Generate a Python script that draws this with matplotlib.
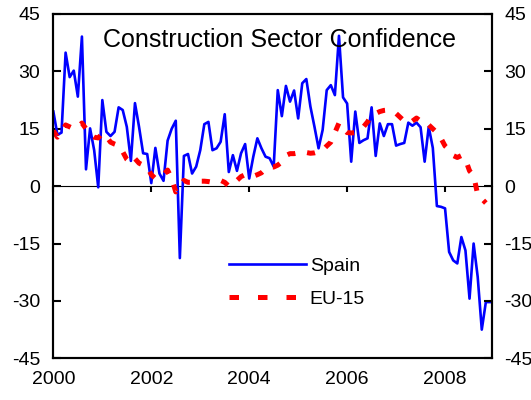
import matplotlib
matplotlib.use('Agg')
import matplotlib.pyplot as plt
from matplotlib.lines import Line2D
import numpy as np

# Monthly construction confidence, Jan 2000 - Dec 2008
spain = [19.5, 13.4, 14.0, 34.9, 28.5, 30.2, 23.4, 39.1, 4.4, 15.1, 9.4, -0.3,
         22.5, 14.2, 13.1, 14.2, 20.6, 19.9, 15.5, 6.6, 21.7, 15.5, 8.6, 8.4,
         0.8, 10.0, 3.3, 1.4, 11.9, 15.0, 17.1, -18.8, 7.9, 8.4, 3.3, 5.1,
         9.4, 16.2, 16.8, 9.4, 9.9, 11.6, 18.8, 3.7, 8.1, 4.0, 8.6, 11.0,
         2.0, 7.7, 12.5, 9.9, 7.7, 7.3, 5.1, 25.1, 18.3, 26.2, 22.1, 25.0,
         17.7, 26.9, 28.0, 20.8, 15.5, 9.9, 14.7, 25.1, 26.4, 23.8, 39.3, 23.2,
         21.6, 6.4, 19.5, 11.3, 12.0, 12.5, 20.6, 7.9, 16.4, 13.1, 16.2, 16.2,
         10.6, 11.0, 11.3, 16.6, 15.8, 16.6, 15.4, 6.4, 15.5, 10.0, -5.2, -5.4,
         -5.8, -17.2, -19.4, -20.2, -13.3, -16.8, -29.4, -15.0, -23.7, -37.5, -30.3, -30.3]

eu15 = [14.5, 12.8, 14.0, 16.0, 15.5, 15.0, 15.5, 16.5, 15.0, 13.5, 12.8, 12.6,
        13.8, 13.0, 11.5, 11.0, 10.6, 9.0, 7.0, 6.0, 7.2, 6.0, 5.5, 5.0,
        3.0, 2.0, 2.5, 3.0, 4.2, 2.0, -1.5, 0.0, 1.5, 1.0, 1.0, 1.2,
        1.3, 1.3, 1.2, 1.0, 1.2, 1.5, 1.0, 0.0, 0.5, 1.5, 2.5, 3.0,
        2.8, 2.6, 3.0, 3.5, 4.5, 5.0, 5.0, 5.5, 6.3, 8.0, 8.5, 8.5,
        8.7, 9.0, 8.8, 8.6, 8.7, 9.0, 9.4, 10.5, 11.5, 14.0, 16.5, 15.0,
        14.0, 13.9, 14.0, 14.5, 15.5, 16.8, 18.6, 19.0, 19.5, 19.8, 19.9, 19.5,
        19.0, 18.0, 17.0, 16.5, 17.0, 17.8, 17.0, 16.0, 16.0, 15.0, 14.0, 12.5,
        10.5, 9.5, 8.0, 7.5, 8.0, 7.0, 4.0, 2.8, -2.2, -3.3, -4.4]

year_ticks = [2000, 2002, 2004, 2006, 2008]
y_ticks = [45, 30, 15, 0, -15, -30, -45]

plt.rcParams['font.family'] = ['Liberation Sans', 'DejaVu Sans']
plt.rcParams['axes.unicode_minus'] = False

t_spain = 2000 + np.arange(len(spain)) / 12
t_eu = 2000 + np.arange(len(eu15)) / 12

fig = plt.figure(figsize=(5.31, 4.0), dpi=100)
ax = fig.add_axes([0.0992, 0.1042, 0.8273, 0.8608])

ax.plot(t_spain, spain, color='#0000ff', lw=1.9, label='Spain')
ax.plot(t_eu, eu15, color='#ff0000', lw=3.6, linestyle=(0, (1.6, 2.4)),
        dash_capstyle='butt', label='EU-15')

ax.set_xlim(2000 - 0.014, 2000 + 107.5 / 12)
ax.set_ylim(-45, 45)

for sp in ax.spines.values():
    sp.set_linewidth(1.5)

ax.set_yticks(y_ticks)
ax.tick_params(axis='y', direction='in', length=5.5, width=1.5, labelsize=14, pad=9)
ax.set_xticks(year_ticks)
ax.set_xticklabels([str(y) for y in year_ticks])
ax.tick_params(axis='x', length=0, labelsize=14, pad=9)

# category axis crossing at zero, labels stay at the bottom
zero_axis = ax.secondary_xaxis(0.5)
zero_axis.spines['bottom'].set_linewidth(1.5)
zero_axis.set_xticks(year_ticks)
zero_axis.set_xticklabels([''] * len(year_ticks))
zero_axis.tick_params(axis='x', direction='in', length=4.5, width=1.5)

ax2 = ax.twinx()
ax2.set_ylim(-45, 45)
ax2.set_yticks(y_ticks)
ax2.tick_params(axis='y', direction='in', length=5.5, width=1.5, labelsize=14, pad=9)
for sp in ax2.spines.values():
    sp.set_linewidth(1.5)

ax.text(0.516, 0.903, 'Construction Sector Confidence', transform=ax.transAxes,
        ha='center', va='baseline', fontsize=18)

handles = [Line2D([], [], color='#0000ff', lw=1.9),
           Line2D([], [], color='#ff0000', lw=3.6, linestyle=(0, (1.9, 3.8)))]
ax.legend(handles, ['Spain', 'EU-15'], loc='upper left', bbox_to_anchor=(0.401, 0.2925),
          frameon=False, fontsize=14, handlelength=3.96, handletextpad=0.2,
          labelspacing=0.76, borderpad=0, borderaxespad=0)

fig.savefig('out.png', dpi=100)
